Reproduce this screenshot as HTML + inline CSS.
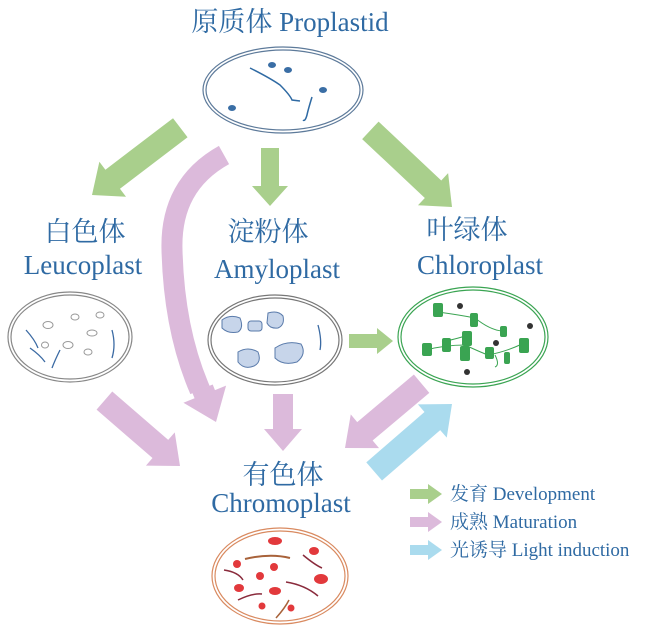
<!DOCTYPE html>
<html><head><meta charset="utf-8"><style>
body{margin:0;background:#fff}
svg{display:block}
text{font-family:"Liberation Serif","Noto Serif CJK SC",serif;fill:#2f6aa3}
</style></head><body>
<svg width="650" height="632" viewBox="0 0 650 632" xmlns="http://www.w3.org/2000/svg">
<!-- titles -->
<text x="290" y="31" font-size="27" text-anchor="middle">原质体 Proplastid</text>
<text x="85" y="241" font-size="27" text-anchor="middle">白色体</text>
<text x="83" y="274" font-size="27" text-anchor="middle">Leucoplast</text>
<text x="268" y="241" font-size="27" text-anchor="middle">淀粉体</text>
<text x="277" y="278" font-size="27" text-anchor="middle">Amyloplast</text>
<text x="467" y="239" font-size="27" text-anchor="middle">叶绿体</text>
<text x="480" y="274" font-size="27" text-anchor="middle">Chloroplast</text>
<text x="283" y="484" font-size="27" text-anchor="middle">有色体</text>
<text x="281" y="512" font-size="27" text-anchor="middle">Chromoplast</text>

<!-- arrows -->
<g fill="#a9cf8c">
<g transform="translate(92,195) rotate(142.7)"><polygon points="0,0 -26,-22 -26,-12 -111,-12 -111,12 -26,12 -26,22"/></g>
<g transform="translate(270,206) rotate(90)"><polygon points="0,0 -20,-18 -20,-9 -58,-9 -58,9 -20,9 -20,18"/></g>
<g transform="translate(452,207) rotate(43.2)"><polygon points="0,0 -26,-22 -26,-12 -112,-12 -112,12 -26,12 -26,22"/></g>
<g transform="translate(393,341) rotate(0)"><polygon points="0,0 -16,-13 -16,-7 -44,-7 -44,7 -16,7 -16,13"/></g>
<g transform="translate(442,494)"><polygon points="0,0 -14,-10 -14,-5 -32,-5 -32,5 -14,5 -14,10"/></g>
</g>
<g fill="#dcbadb">
<path d="M224,155 Q170,185 172,250 Q174,330 200,390" fill="none" stroke="#dcbadb" stroke-width="21"/>
<g transform="translate(216,422) rotate(68)"><polygon points="0,0 -30,-23 -30,-11 -36,-11 -36,11 -30,11 -30,23"/></g>
<g transform="translate(180,466) rotate(40.9)"><polygon points="0,0 -26,-22 -26,-12 -100,-12 -100,12 -26,12 -26,22"/></g>
<g transform="translate(283,451) rotate(90)"><polygon points="0,0 -22,-19 -22,-10 -57,-10 -57,10 -22,10 -22,19"/></g>
<g transform="translate(345,448) rotate(140)"><polygon points="0,0 -26,-22 -26,-12 -100,-12 -100,12 -26,12 -26,22"/></g>
<g transform="translate(442,522)"><polygon points="0,0 -14,-10 -14,-5 -32,-5 -32,5 -14,5 -14,10"/></g>
</g>
<g fill="#aadbee">
<g transform="translate(452,404) rotate(-40.9)"><polygon points="0,0 -26,-22 -26,-12 -103,-12 -103,12 -26,12 -26,22"/></g>
<g transform="translate(442,550)"><polygon points="0,0 -14,-10 -14,-5 -32,-5 -32,5 -14,5 -14,10"/></g>
</g>
<text x="450" y="500" font-size="19">发育 Development</text>
<text x="450" y="528" font-size="19">成熟 Maturation</text>
<text x="450" y="556" font-size="19">光诱导 Light induction</text>

<!-- proplastid -->
<g fill="none" stroke="#5d7a9a" stroke-width="1.2">
<ellipse cx="283" cy="90" rx="80" ry="43"/>
<ellipse cx="283" cy="90" rx="77" ry="40"/>
</g>
<g fill="#3a6ea5"><ellipse cx="272" cy="65" rx="4" ry="3"/><ellipse cx="288" cy="70" rx="4" ry="3"/><ellipse cx="323" cy="90" rx="4" ry="3"/><ellipse cx="232" cy="108" rx="4" ry="3"/></g>
<path d="M250,68 Q270,78 280,85 Q290,95 292,100 L300,101" fill="none" stroke="#2f6aa3" stroke-width="1.5"/>
<path d="M312,97 Q308,110 307,115 Q305,122 303,120" fill="none" stroke="#2f6aa3" stroke-width="1.5"/>

<!-- leucoplast -->
<g fill="none" stroke="#888" stroke-width="1.2">
<ellipse cx="70" cy="337" rx="62" ry="45"/><ellipse cx="70" cy="337" rx="59" ry="42"/>
</g>
<g fill="none" stroke="#999" stroke-width="1"><ellipse cx="48" cy="325" rx="5" ry="3.5"/><ellipse cx="75" cy="317" rx="4" ry="3"/><ellipse cx="92" cy="333" rx="5" ry="3"/><ellipse cx="68" cy="345" rx="5" ry="3.5"/><ellipse cx="88" cy="352" rx="4" ry="3"/><ellipse cx="45" cy="345" rx="3.5" ry="3"/><ellipse cx="100" cy="315" rx="4" ry="3"/></g>
<g fill="none" stroke="#3b6aa3" stroke-width="1.3"><path d="M26,330 Q35,340 38,348"/><path d="M60,350 Q55,360 52,368"/><path d="M112,330 Q116,345 112,358"/><path d="M30,348 Q40,355 45,362"/></g>

<!-- amyloplast -->
<g fill="none" stroke="#777" stroke-width="1.2">
<ellipse cx="275" cy="340" rx="67" ry="45"/><ellipse cx="275" cy="340" rx="64" ry="42"/>
</g>
<g fill="#c7d5ea" stroke="#5a7bab" stroke-width="1">
<path d="M222,320 q8,-6 18,-2 q4,10 -2,14 q-10,2 -16,-4z"/>
<path d="M268,313 q10,-3 15,3 q2,9 -5,12 q-8,1 -11,-5z"/>
<rect x="248" y="321" width="14" height="10" rx="3"/>
<path d="M238,352 q10,-6 20,0 q4,10 -4,14 q-10,4 -16,-4z"/>
<path d="M275,348 q12,-8 26,-4 q6,10 -4,18 q-14,4 -22,-4z"/>
</g>
<path d="M318,325 Q322,340 320,350" fill="none" stroke="#3b6aa3" stroke-width="1.3"/>

<!-- chloroplast -->
<g fill="none" stroke="#3aa452" stroke-width="1.2">
<ellipse cx="473" cy="337" rx="75" ry="50"/><ellipse cx="473" cy="337" rx="72" ry="47"/>
</g>
<g fill="none" stroke="#3aa452" stroke-width="1"><path d="M438,312 Q460,315 475,318 Q490,330 502,331"/><path d="M426,350 Q445,345 465,345 Q480,352 488,355 Q505,352 522,344"/><path d="M442,342 Q460,338 468,335"/><path d="M495,355 Q500,365 495,367"/></g>
<g fill="#3aa452">
<rect x="433" y="303" width="10" height="14" rx="2"/><rect x="470" y="313" width="8" height="14" rx="2"/><rect x="500" y="326" width="7" height="11" rx="2"/>
<rect x="422" y="343" width="10" height="13" rx="2"/><rect x="442" y="338" width="9" height="14" rx="2"/><rect x="462" y="331" width="10" height="15" rx="2"/>
<rect x="460" y="346" width="10" height="15" rx="2"/><rect x="485" y="347" width="9" height="12" rx="2"/><rect x="504" y="352" width="6" height="12" rx="2"/><rect x="519" y="338" width="10" height="15" rx="2"/>
</g>
<g fill="#333"><circle cx="460" cy="306" r="3"/><circle cx="530" cy="326" r="3"/><circle cx="496" cy="343" r="3"/><circle cx="467" cy="372" r="3"/></g>

<!-- chromoplast -->
<g fill="none" stroke="#d98a60" stroke-width="1.2">
<ellipse cx="280" cy="576" rx="68" ry="48"/><ellipse cx="280" cy="576" rx="65" ry="45"/>
</g>
<g fill="#e2393c">
<ellipse cx="275" cy="541" rx="7" ry="4"/><ellipse cx="314" cy="551" rx="5" ry="4"/><circle cx="237" cy="564" r="4"/><circle cx="274" cy="567" r="4"/>
<circle cx="260" cy="576" r="4"/><ellipse cx="321" cy="579" rx="7" ry="5"/><ellipse cx="239" cy="588" rx="5" ry="4"/><ellipse cx="275" cy="591" rx="6" ry="4"/>
<circle cx="262" cy="606" r="3.5"/><circle cx="291" cy="608" r="3.5"/>
</g>
<g fill="none" stroke-width="2"><path d="M245,559 Q270,553 290,558" stroke="#a8623a"/><path d="M224,570 Q238,572 243,580" stroke="#8a2b3c" stroke-width="1.5"/><path d="M303,555 Q315,565 322,568" stroke="#8a2b3c" stroke-width="1.5"/><path d="M286,582 Q305,585 318,596" stroke="#8a2b3c" stroke-width="1.5"/><path d="M238,600 Q252,593 262,594" stroke="#8a2b3c" stroke-width="1.5"/><path d="M276,618 Q285,608 289,600" stroke="#a8623a" stroke-width="1.5"/></g>
</svg>
</body></html>
